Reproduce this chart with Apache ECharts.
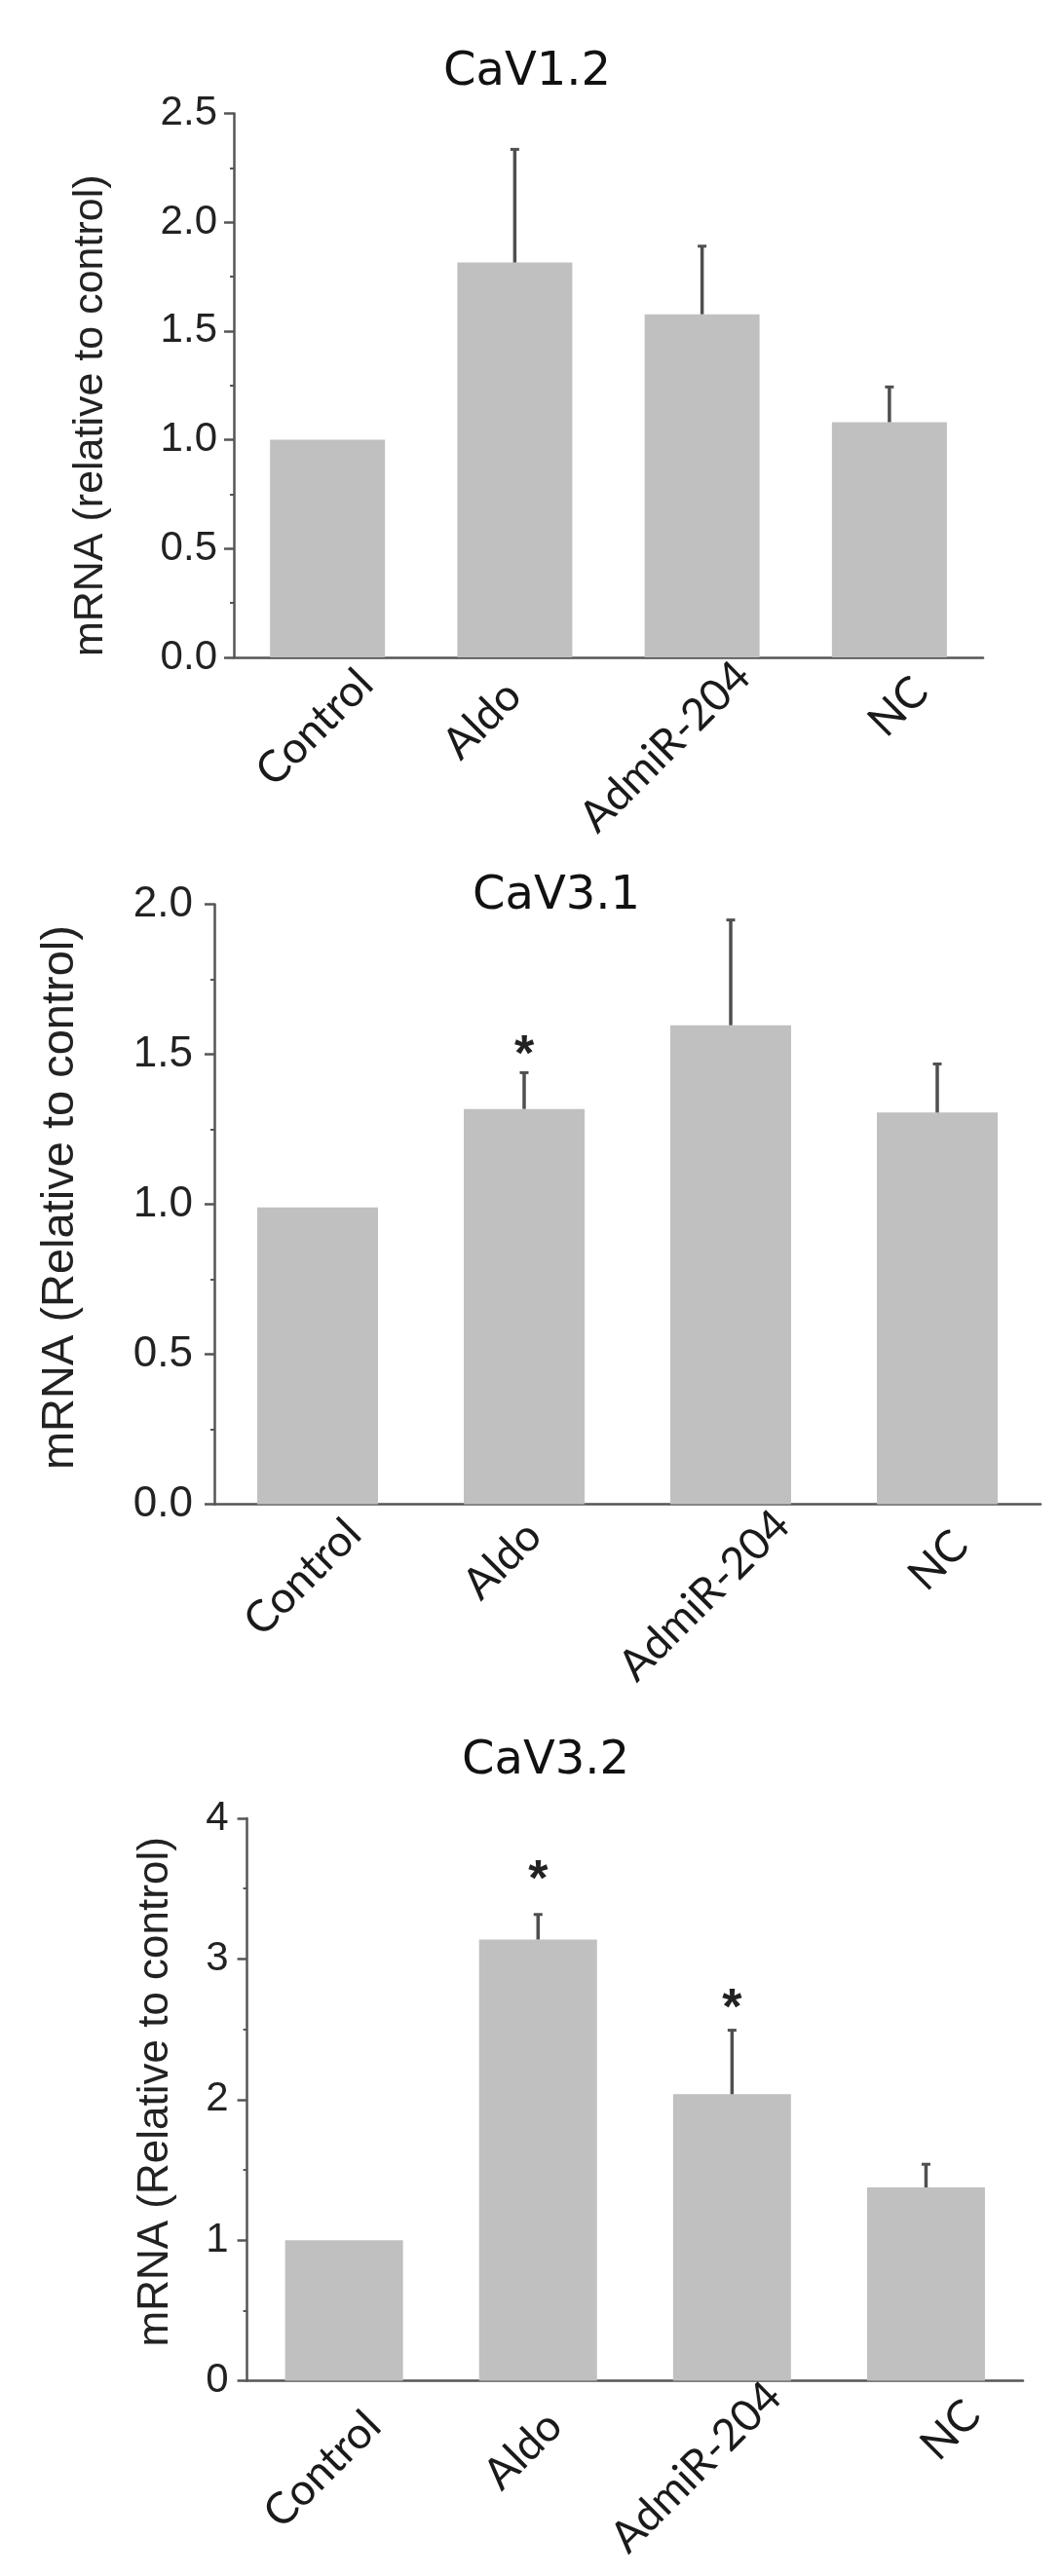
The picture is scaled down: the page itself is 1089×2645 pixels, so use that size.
<!DOCTYPE html>
<html><head><meta charset="utf-8">
<script src="https://cdn.jsdelivr.net/npm/echarts@6/dist/echarts.min.js"></script>
<style>html,body{margin:0;padding:0;background:#fff}#c{width:1089px;height:2645px}</style>
</head><body><div id="c"></div>
<script>
// ---- data ----
const categories = ['Control', 'Aldo', 'AdmiR-204', 'NC'];
const titles = ['CaV1.2', 'CaV3.1', 'CaV3.2'];
const yNames = ['mRNA (relative to control)', 'mRNA (Relative to control)', 'mRNA (Relative to control)'];

const cav12Mean = [1.00, 1.815, 1.577, 1.081];
const cav12Err  = [0, 0.52, 0.313, 0.162];
const cav12Star = [null, null, null, null];

const cav31Mean = [0.99, 1.318, 1.597, 1.306];
const cav31Err  = [0, 0.121, 0.351, 0.162];
const cav31Star = [null, 1.538, null, null];

const cav32Mean = [1.00, 3.138, 2.038, 1.375];
const cav32Err  = [0, 0.178, 0.455, 0.165];
const cav32Star = [null, 3.647, 2.735, null];

const yTicks1 = ['0.0', '0.5', '1.0', '1.5', '2.0', '2.5'];
const yTicks2 = ['0.0', '0.5', '1.0', '1.5', '2.0'];
const yTicks3 = ['0', '1', '2', '3', '4'];

const means = [cav12Mean, cav31Mean, cav32Mean];
const errs = [cav12Err, cav31Err, cav32Err];
const stars = [cav12Star, cav31Star, cav32Star];
const tickLabels = [yTicks1, yTicks2, yTicks3];
const yIntervals = [0.5, 0.5, 1];

// ---- layout / style ----
const grids = [
  {left: 240, top: 116.5, width: 769, height: 558.5},
  {left: 220, top: 928.6, width: 848, height: 616},
  {left: 253.6, top: 1867, width: 796.4, height: 577.6}
];
const barWidths = [118, 124, 121];
const titlePos = [[536, 46], [566, 892], [555, 1780]];
const nameGaps = [125, 134, 72];
const nameSizes = [43, 47, 44];
const namePads = [[0, 62, 0, 0], [0, 0, 0, 14], [0, 0, 0, 16]];
const tickSizes = [42, 44, 42];
const tickMargins = [17, 22, 19];
// pixel offsets of each rotated category label's end from (tick centre, axis line)
const labelOffsets = [
  [[39, 20], [-1, 32], [42, 12], [32, 28]],
  [[37, 23], [10, 25], [53, 14], [24, 35]],
  [[30, 39], [17, 39], [43, 9], [48, 28]]
];
const AX = '#555';
const ERR = '#4f4f4f';

function errRender(params, api) {
  const i = api.value(0), m = api.value(1), e = api.value(2);
  if (!e) return null;
  const p0 = api.coord([i, m]);
  const p1 = api.coord([i, m + e]);
  const cw = 4.5;
  return {
    type: 'group',
    children: [
      {type: 'line', shape: {x1: p0[0], y1: p0[1], x2: p1[0], y2: p1[1]}, style: {stroke: ERR, lineWidth: 3.5}},
      {type: 'line', shape: {x1: p1[0] - cw, y1: p1[1], x2: p1[0] + cw, y2: p1[1]}, style: {stroke: ERR, lineWidth: 3}}
    ]
  };
}
function starRender(params, api) {
  const p = api.coord([api.value(0), api.value(1)]);
  return {
    type: 'text', x: p[0], y: p[1] + 14,
    style: {text: '*', fontSize: 52, fontFamily: 'Liberation Sans', fontWeight: 'bold', fill: '#222', align: 'center', verticalAlign: 'middle'}
  };
}
function makeLabelRender(k) {
  return function (params, api) {
    const i = api.value(0);
    const p = api.coord([i, 0]);
    const o = labelOffsets[k][i];
    return {
      type: 'text', x: p[0] + o[0], y: p[1] + o[1], rotation: Math.PI / 4,
      style: {text: categories[i], fontSize: 45, fontFamily: 'Lato', fill: '#1a1a1a', align: 'right', verticalAlign: 'middle'}
    };
  };
}

const option = {
  backgroundColor: '#fff',
  animation: false,
  title: titles.map((t, k) => ({
    text: t, left: titlePos[k][0], top: titlePos[k][1], textAlign: 'center',
    textStyle: {fontFamily: 'DejaVu Sans', fontSize: 48, fontWeight: 'normal', color: '#111'}
  })),
  grid: grids.map(g => Object.assign({containLabel: false, outerBoundsMode: 'none'}, g)),
  xAxis: grids.map((g, k) => ({
    type: 'category', gridIndex: k, data: categories,
    axisLine: {show: true, onZero: false, lineStyle: {color: AX, width: 2.5}},
    axisTick: {show: false},
    splitLine: {show: false},
    axisLabel: {show: false}
  })),
  yAxis: grids.map((g, k) => ({
    type: 'value', gridIndex: k, min: 0,
    max: yIntervals[k] * (tickLabels[k].length - 1), interval: yIntervals[k],
    axisLine: {show: true, lineStyle: {color: AX, width: 2.5}},
    axisTick: {show: true, length: 10, lineStyle: {color: AX, width: 2.5}},
    minorTick: {show: true, splitNumber: 2, length: 4, lineStyle: {color: AX, width: 2}},
    splitLine: {show: false},
    axisLabel: {
      margin: tickMargins[k], fontFamily: 'Liberation Sans', fontSize: tickSizes[k], color: '#222',
      formatter: v => tickLabels[k][Math.round(v / yIntervals[k])]
    },
    name: yNames[k], nameLocation: 'middle', nameGap: nameGaps[k],
    nameTextStyle: {fontFamily: 'Liberation Sans', fontSize: nameSizes[k], color: '#222', padding: namePads[k]}
  })),
  series: [].concat(...grids.map((g, k) => [
    {
      type: 'bar', xAxisIndex: k, yAxisIndex: k, data: means[k], barWidth: barWidths[k],
      itemStyle: {color: '#c0c0c0'}, z: 2
    },
    {
      type: 'custom', xAxisIndex: k, yAxisIndex: k, renderItem: errRender, z: 3,
      encode: {x: 0, y: 1},
      data: categories.map((c, i) => [i, means[k][i], errs[k][i]])
    },
    {
      type: 'custom', xAxisIndex: k, yAxisIndex: k, renderItem: starRender, z: 4,
      encode: {x: 0, y: 1},
      data: stars[k].map((v, i) => v == null ? null : [i, v]).filter(d => d)
    },
    {
      type: 'custom', xAxisIndex: k, yAxisIndex: k, renderItem: makeLabelRender(k), z: 4, silent: true,
      encode: {x: 0, y: 1}, clip: false,
      data: categories.map((c, i) => [i, 0])
    }
  ]))
};
const chart = echarts.init(document.getElementById('c'), null, {renderer: 'canvas'});
chart.setOption(option);
</script>
</body></html>
